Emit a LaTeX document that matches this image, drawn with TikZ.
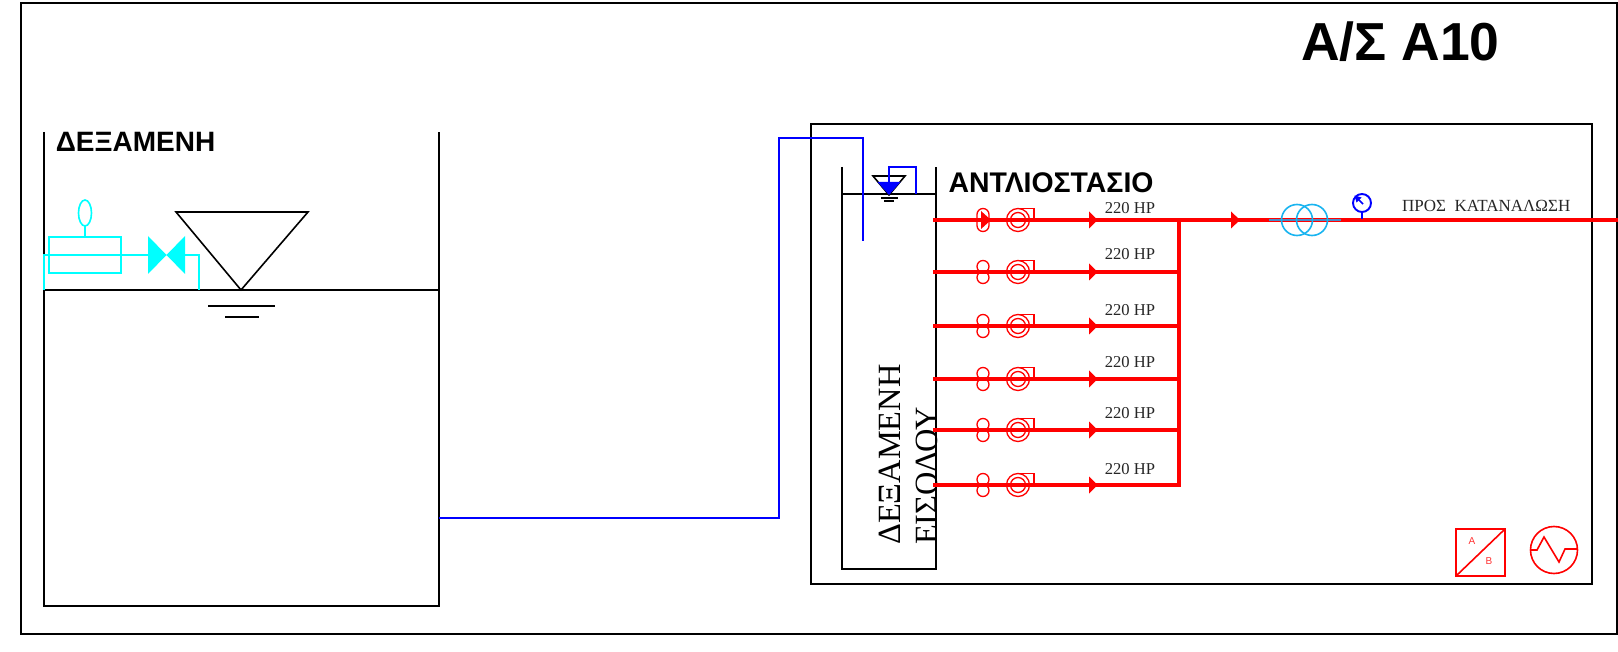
\documentclass[tikz,border=0pt]{standalone}
\usepackage{fontspec}
\setmainfont{Liberation Serif}
\setsansfont{Liberation Sans}
\definecolor{pureCyan}{RGB}{0,255,255}
\definecolor{pureBlue}{RGB}{0,0,255}
\definecolor{pureRed}{RGB}{255,0,0}
\definecolor{meterBlue}{RGB}{25,180,240}
\definecolor{meterAxis}{RGB}{70,140,200}
\begin{document}
\begin{tikzpicture}[x=1pt,y=-1pt,
  wall/.style={draw=black,line width=1.6pt},
  pipe/.style={draw=pureRed,line width=3.9pt},
  redthin/.style={draw=pureRed,line width=1.3pt},
  feed/.style={draw=pureBlue,line width=1.6pt},
  cyanline/.style={draw=pureCyan,line width=1.6pt},
  hp/.style={font=\rmfamily\fontsize{16.6}{16.6}\selectfont,text=black!85,inner sep=0pt},
  boldlabel/.style={font=\sffamily\bfseries,text=black,inner sep=0pt}]
\useasboundingbox (0,0) rectangle (1618,652);
\fill[white] (0,0) rectangle (1618,652);
% frames
\draw[wall] (21,3) rectangle (1617,634);
\draw[wall] (811,124) rectangle (1592,584);
% left reservoir
\coordinate (tankTL) at (44,132);
\coordinate (tankBL) at (44,606);
\coordinate (tankBR) at (439,606);
\coordinate (tankTR) at (439,132);
\draw[wall] (tankTL) -- (tankBL) -- (tankBR) -- (tankTR);
\draw[wall] (44,290) -- (439,290);
\draw[wall] (176,212) -- (308,212) -- (241,290) -- cycle;
\draw[wall] (208,306) -- (275,306);
\draw[wall] (225,317) -- (259,317);
% float valve (cyan)
\draw[cyanline] (49,237) rectangle (121,273);
\draw[cyanline] (85,213) ellipse (6.5 and 13);
\draw[cyanline] (85,226) -- (85,237);
\draw[cyanline] (44,290) -- (44,255) -- (148,255);
\draw[cyanline] (185,255) -- (199,255) -- (199,290);
\fill[pureCyan] (148,236) -- (148,274) -- (166.5,255) -- (185,274) -- (185,236) -- (166.5,255) -- cycle;
% labels
\node[boldlabel,font=\sffamily\bfseries\fontsize{28}{28}\selectfont] (resLabel) at (135.5,142) {ΔΕΞΑΜΕΝΗ};
\node[boldlabel,font=\sffamily\bfseries\fontsize{53.5}{53.5}\selectfont] (title) at (1400.5,41.5) {Α/Σ Α10};
\node[boldlabel,font=\sffamily\bfseries\fontsize{28.4}{28.4}\selectfont] (stLabel) at (1051,183) {ΑΝΤΛΙΟΣΤΑΣΙΟ};
% entry tank
\draw[wall] (842,167) -- (842,569) -- (936,569) -- (936,167);
\draw[wall] (842,194) -- (936,194);
\node[rotate=90,anchor=west,inner sep=0pt,font=\rmfamily\fontsize{32.4}{32.4}\selectfont] (entry1) at (890,545) {ΔΕΞΑΜΕΝΗ};
\node[rotate=90,anchor=west,inner sep=0pt,font=\rmfamily\fontsize{32.4}{32.4}\selectfont] (entry2) at (927,545) {ΕΙΣΟΔΟΥ};
% level symbol
\draw[wall] (873,176) -- (905,176) -- (889,195) -- cycle;
\draw[wall,line width=1.2pt] (881,198) -- (898,198);
\draw[wall,line width=1.2pt] (884,201) -- (894,201);
\fill[pureBlue] (877.5,182) -- (900.5,182) -- (889,195) -- cycle;
\draw[feed] (889,184) -- (889,167) -- (916,167) -- (916,194);
% blue feed line
\coordinate (feedA) at (439,518);
\coordinate (feedB) at (779,518);
\coordinate (feedC) at (779,138);
\coordinate (feedD) at (863,138);
\coordinate (feedE) at (863,241);
\draw[feed] (feedA) -- (feedB) -- (feedC) -- (feedD) -- (feedE);
% pump lines
\foreach \y/\ly in {220/208,272/254,326/310,379/362,430/413,485/469}{
  \draw[pipe] (933,\y) -- (1178,\y);
  \draw[redthin] (1018,\y) circle (11.5);
  \draw[redthin] (1018,\y) circle (7.5);
  \draw[redthin] (1018,\y-11.5) -- (1034,\y-11.5) -- (1034,\y-2);
  \fill[pureRed] (1089,\y-8.5) -- (1097.5,\y) -- (1089,\y+8.5) -- cycle;
  \node[hp] at (1130,\ly) {220 HP};
}
\foreach \y in {272,326,379,430,485}{
  \draw[redthin] (983,\y-5.5) circle (6);
  \draw[redthin] (983,\y+5.5) circle (6);
}
\draw[redthin,rounded corners=6pt] (977,208.5) rectangle (989,231.5);
\fill[pureRed] (981,211) -- (991,220) -- (981,229) -- cycle;
% collector and main
\draw[pipe,line cap=rect] (1179,220) -- (1179,485);
\draw[pipe] (1178,220) -- (1618,220);
\fill[pureRed] (1231,211.5) -- (1240,220) -- (1231,228.5) -- cycle;
% meter
\draw[draw=meterAxis,line width=1.6pt] (1269,220) -- (1341,220);
\draw[draw=meterBlue,line width=1.6pt] (1297,220) circle (15.5);
\draw[draw=meterBlue,line width=1.6pt] (1312,220) circle (15.5);
% gauge
\draw[feed,line width=1.9pt] (1362,203) circle (9);
\draw[feed] (1362,212) -- (1362,219);
\draw[feed] (1363,204) -- (1358,199);
\fill[pureBlue] (1354.5,195.5) -- (1361.5,197.5) -- (1356.5,202.5) -- cycle;
\node[anchor=west,inner sep=0pt,font=\rmfamily\fontsize{17}{17}\selectfont,text=black!85] (dest) at (1402,206) {ΠΡΟΣ\ \ ΚΑΤΑΝΑΛΩΣΗ};
% legend symbols
\draw[redthin,line width=1.6pt] (1456,529) rectangle (1505,576);
\draw[redthin,line width=1.6pt] (1456,576) -- (1505,529);
\node[font=\sffamily\fontsize{10}{10}\selectfont,text=pureRed!80,inner sep=0pt] (symA) at (1472,541) {A};
\node[font=\sffamily\fontsize{10}{10}\selectfont,text=pureRed!80,inner sep=0pt] (symB) at (1489,561) {B};
\draw[redthin,line width=1.6pt] (1554,550) circle (23.5);
\draw[redthin,line width=1.6pt] (1530.5,550) -- (1537,550) -- (1544,537) -- (1559,562) -- (1565,549) -- (1577.5,549);
\end{tikzpicture}
\end{document}
